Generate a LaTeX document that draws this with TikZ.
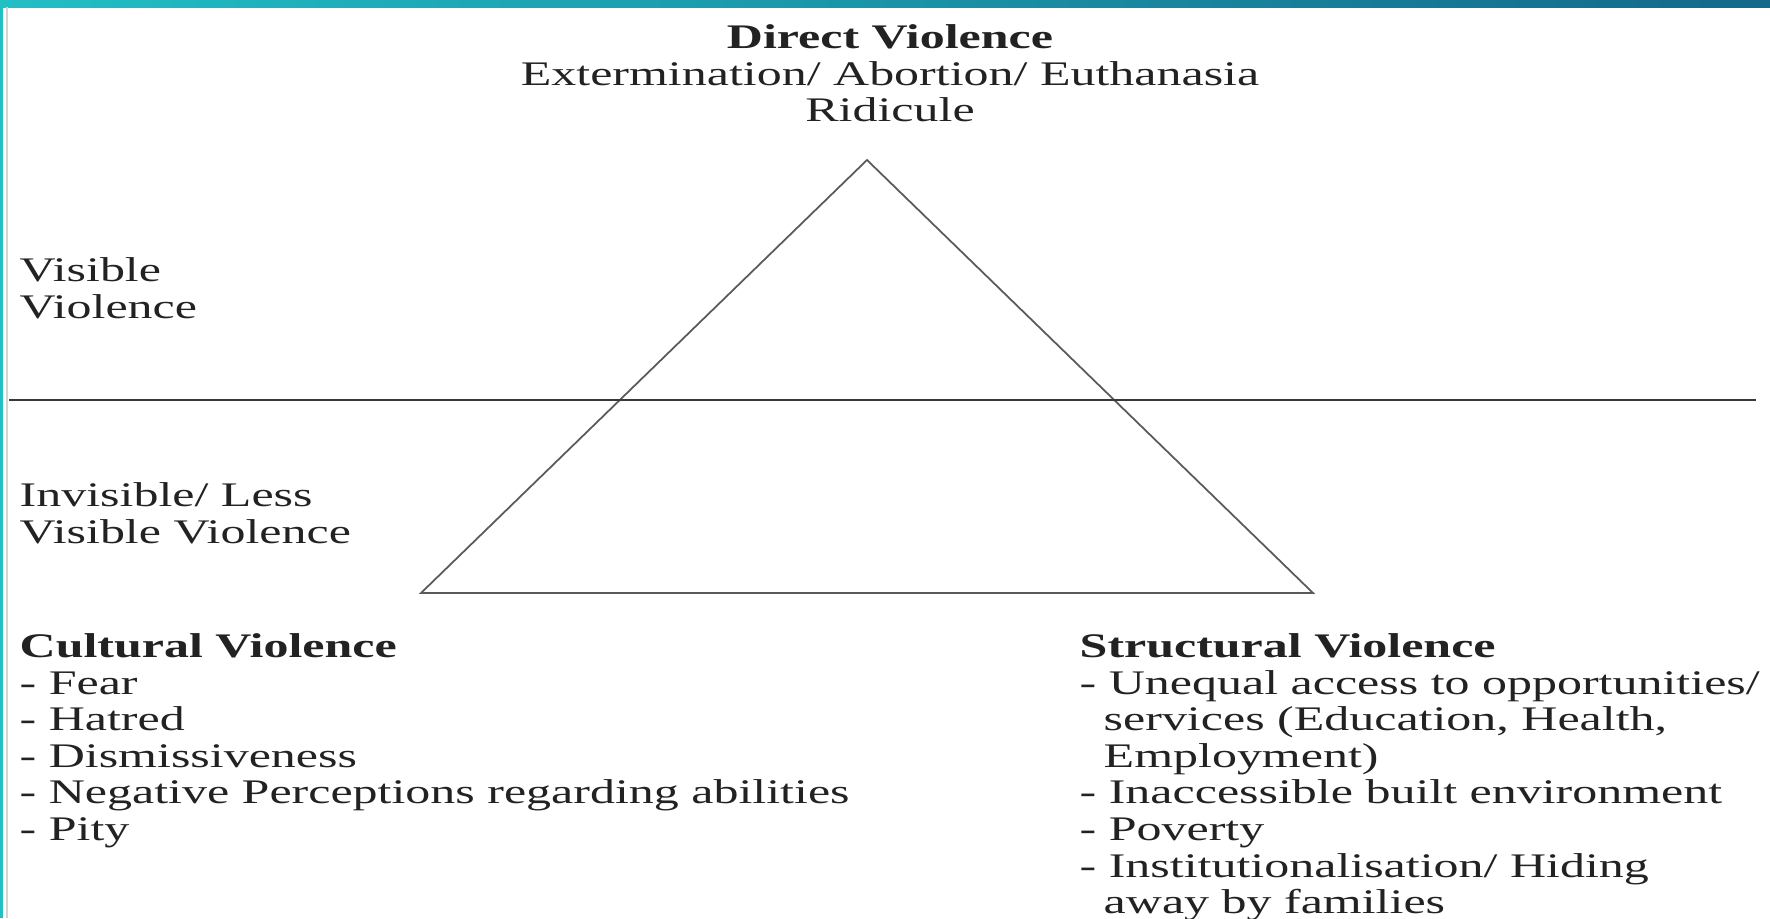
\documentclass[tikz,border=0pt]{standalone}
\usepackage{fontspec}
\setmainfont{Liberation Serif}[FakeStretch=1.45]
\definecolor{barleft}{HTML}{22BFC5}
\definecolor{barright}{HTML}{14688A}
\definecolor{inkgray}{HTML}{222222}
\definecolor{edgegray}{HTML}{5A5A5A}
\newcommand{\hangsp}{\hspace*{0.24cm}}
\tikzset{
  violence text/.style={inner sep=0pt, align=left, anchor=north west, text=inkgray,
    font=\fontsize{9.8pt}{10.4pt}\selectfont},
  pyramid edge/.style={draw=edgegray, line width=0.5pt},
  divide line/.style={draw=inkgray!90, line width=0.6pt}
}

\begin{document}
\begin{tikzpicture}[x=0.01cm, y=-0.01cm]
  \useasboundingbox (0,0) rectangle (1770,918);
  % frame
  \shade[left color=barleft, right color=barright] (0,0) rectangle (1770,7);
  \fill[barleft] (0,7) rectangle (2.5,918);
  \draw[gray!35, line width=0.4pt] (7,7) -- (7,918);

  % triangle and divide
  \coordinate (apex) at (867,160);
  \coordinate (baseL) at (421,593);
  \coordinate (baseR) at (1313,593);
  \coordinate (lineL) at (9,400);
  \coordinate (lineR) at (1756,400);
  \draw[pyramid edge] (apex) -- (baseL) -- (baseR) -- cycle;
  \draw[divide line] (lineL) -- (lineR);

  % labels
  \node[violence text, align=center, anchor=north] (direct) at (890,24)
    {\textbf{Direct Violence}\\Extermination/ Abortion/ Euthanasia\\Ridicule};
  \node[violence text] (visible) at (19,257) {Visible\\Violence};
  \node[violence text] (invisible) at (19,482) {Invisible/ Less\\Visible Violence};
  \node[violence text] (cultural) at (19,633)
    {\textbf{Cultural Violence}\\- Fear\\- Hatred\\- Dismissiveness\\
     - Negative Perceptions regarding abilities\\- Pity};
  \node[violence text] (structural) at (1079,633)
    {\textbf{Structural Violence}\\- Unequal access to opportunities/\\
     \hangsp services (Education, Health,\\\hangsp Employment)\\
     - Inaccessible built environment\\- Poverty\\
     - Institutionalisation/ Hiding\\\hangsp away by families};
\end{tikzpicture}
\end{document}
